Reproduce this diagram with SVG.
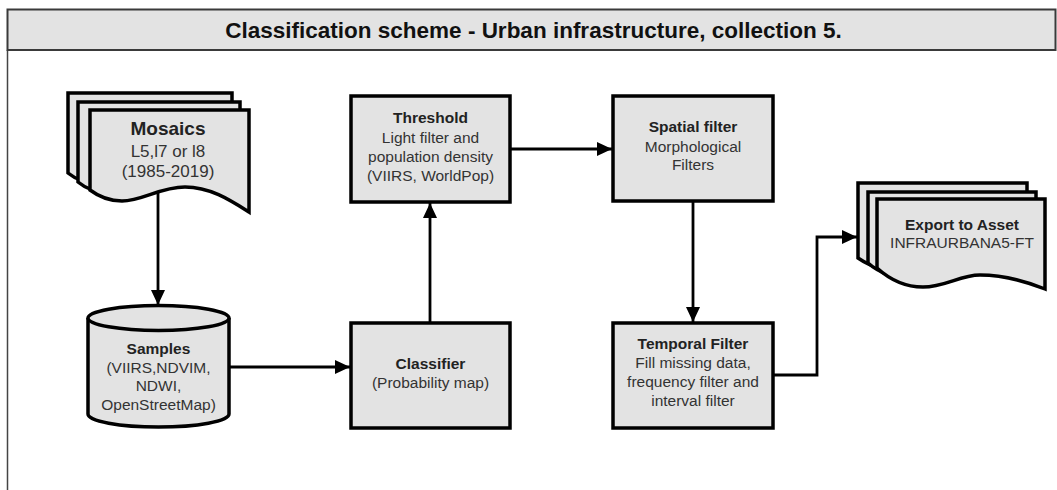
<svg xmlns="http://www.w3.org/2000/svg" width="1057" height="490" viewBox="0 0 1057 490">
<defs>
<style>
.frame{fill:none;stroke:#444;stroke-width:1.5}
.bar{fill:#e3e3e3;stroke:#3a3a3a;stroke-width:2}
.title{font-family:"Liberation Sans",Arial,sans-serif;font-weight:bold;font-size:22.5px;fill:#111;text-anchor:middle}
.node{fill:#e3e3e3;stroke:#000;stroke-width:3.5;stroke-linejoin:miter}
.t{font-family:"Liberation Sans",Arial,sans-serif;font-size:15.5px;fill:#333;text-anchor:middle}
.b{font-weight:bold;fill:#222}
.edge{fill:none;stroke:#000;stroke-width:2.8;stroke-linejoin:miter}
</style>
<marker id="arr" markerUnits="userSpaceOnUse" markerWidth="16" markerHeight="14" refX="15" refY="7" orient="auto">
<path d="M0,0 L15,7 L0,14 z" fill="#000"/>
</marker>
</defs>
<rect width="1057" height="490" fill="#fff"/>
<g id="frame">
<line class="frame" x1="7.5" y1="50" x2="7.5" y2="490"/>
<rect class="bar" x="7.5" y="9.5" width="1048" height="40.5"/>
<text class="title" x="533.5" y="38">Classification scheme - Urban infrastructure, collection 5.</text>
</g>
<g id="connectors">
<path class="edge" d="M158,193 V305" marker-end="url(#arr)"/>
<path class="edge" d="M229,367 H350" marker-end="url(#arr)"/>
<path class="edge" d="M430,323 V203" marker-end="url(#arr)"/>
<path class="edge" d="M510,149 H612" marker-end="url(#arr)"/>
<path class="edge" d="M693,201 V322" marker-end="url(#arr)"/>
<path class="edge" d="M773,375 H817 V237 H857" marker-end="url(#arr)"/>
</g>
<g id="mosaics">
<path class="node" d="M68,93 H232 V195 C210,183 195,170 170,170 C145,170 125,185 100,184 C85,183 74,178 68,173 Z"/>
<path class="node" d="M78,102 H240 V204 C218,192 203,179 178,179 C153,179 133,194 108,193 C93,192 84,187 78,182 Z"/>
<path class="node" d="M90,110 H249 V212 C230,200 210,187 185,187 C160,187 142,201 122,201 C108,201 98,196 90,190 Z"/>
<text class="t b" x="168" y="135" style="font-size:19px">Mosaics</text>
<text class="t" x="168" y="157" style="font-size:17px">L5,l7 or l8</text>
<text class="t" x="168" y="177" style="font-size:17px">(1985-2019)</text>
</g>
<g id="samples">
<path class="node" d="M88,318 V414 A70.5,13 0 0 0 229,414 V318"/>
<ellipse class="node" cx="158.5" cy="318" rx="70.5" ry="12.5"/>
<text class="t b" x="158.5" y="354">Samples</text>
<text class="t" x="158.5" y="373">(VIIRS,NDVIM,</text>
<text class="t" x="158.5" y="391">NDWI,</text>
<text class="t" x="158.5" y="410">OpenStreetMap)</text>
</g>
<g id="classifier">
<rect class="node" x="351" y="323" width="159" height="105"/>
<text class="t b" x="430.5" y="369">Classifier</text>
<text class="t" x="430.5" y="388">(Probability map)</text>
</g>
<g id="threshold">
<rect class="node" x="351" y="96" width="159" height="106"/>
<text class="t b" x="430.5" y="123">Threshold</text>
<text class="t" x="430.5" y="143">Light filter and</text>
<text class="t" x="430.5" y="162">population density</text>
<text class="t" x="430.5" y="181">(VIIRS, WorldPop)</text>
</g>
<g id="spatial">
<rect class="node" x="613" y="96" width="160" height="105"/>
<text class="t b" x="693" y="132">Spatial filter</text>
<text class="t" x="693" y="152">Morphological</text>
<text class="t" x="693" y="170">Filters</text>
</g>
<g id="temporal">
<rect class="node" x="613" y="323" width="160" height="105"/>
<text class="t b" x="693" y="349">Temporal Filter</text>
<text class="t" x="693" y="368">Fill missing data,</text>
<text class="t" x="693" y="387">frequency filter and</text>
<text class="t" x="693" y="406">interval filter</text>
</g>
<g id="export">
<path class="node" d="M858,183 H1027 V270 C1008,264 990,259 970,259 C950,259 935,272 910,272 C885,272 868,265 858,258 Z"/>
<path class="node" d="M868,192 H1036 V279 C1017,273 999,267 979,267 C959,267 944,280 919,280 C894,280 877,271 868,263 Z"/>
<path class="node" d="M877,199 H1045 V289 C1025,281 1003,275 980,275 C960,275 945,287 923,287 C902,287 888,278 877,268 Z"/>
<text class="t b" x="962" y="230">Export to Asset</text>
<text class="t" x="962" y="248">INFRAURBANA5-FT</text>
</g>
</svg>
